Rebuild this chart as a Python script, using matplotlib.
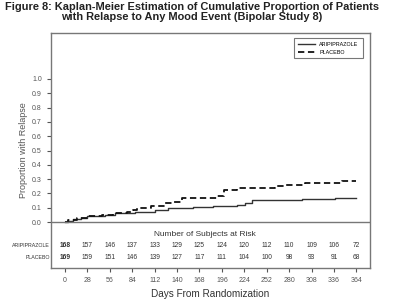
import numpy as np
import matplotlib
matplotlib.use("Agg")
import matplotlib.pyplot as plt

# Kaplan-Meier step data
ari_days = [0, 4, 10, 20, 28, 50, 62, 88, 112, 129, 160, 185, 215, 225, 234, 296, 337, 364]
ari_prop = [0, 0.01, 0.02, 0.03, 0.04, 0.05, 0.06, 0.07, 0.085, 0.095, 0.105, 0.115, 0.12, 0.13, 0.155, 0.163, 0.17, 0.17]
pla_days = [0, 4, 15, 29, 46, 60, 77, 85, 90, 108, 125, 135, 146, 190, 198, 215, 235, 262, 275, 300, 320, 346, 364]
pla_prop = [0, 0.015, 0.03, 0.045, 0.05, 0.06, 0.07, 0.085, 0.1, 0.11, 0.13, 0.14, 0.17, 0.18, 0.225, 0.235, 0.24, 0.25, 0.26, 0.27, 0.275, 0.29, 0.29]

tick_days = list(range(0, 365, 28))
ari_risk = [168, 157, 146, 137, 133, 129, 125, 124, 120, 112, 110, 109, 106, 72]
pla_risk = [169, 159, 151, 146, 139, 127, 117, 111, 104, 100, 98, 93, 91, 68]

sans = ['Liberation Sans', 'DejaVu Sans']
grey = '#555555'
plt.rcParams['font.family'] = sans

fig = plt.figure(figsize=(4, 3.01), dpi=100)
ax = fig.add_axes([0.1275, 0.110, 0.7975, 0.780])

ax.step(ari_days, ari_prop, where='post', color='#333333', lw=1.0, label='ARIPIPRAZOLE')
ax.step(pla_days, pla_prop, where='post', color='#111111', lw=1.3, ls=(0, (3.5, 2)), label='PLACEBO')
ax.axhline(0, color='#777777', lw=1.0)

ax.set_xlim(-17.5, 381)
ax.set_ylim(-0.32, 1.32)
ax.set_xticks(tick_days)
ax.set_yticks(np.arange(0, 1.01, 0.1))
ax.set_yticklabels([f"{v:.1f}" for v in np.arange(0, 1.01, 0.1)])
ax.tick_params(axis='both', labelsize=5, colors=grey, length=3, width=0.8)
for s in ax.spines.values():
    s.set_color('#777777')
    s.set_linewidth(1.0)

# at-risk table inside the box
ax.text(175, -0.09, 'Number of Subjects at Risk', ha='center', va='center', fontsize=6, color='#333333')
for i, d in enumerate(tick_days):
    w = 'bold' if i == 0 else 'normal'
    ax.text(d, -0.166, str(ari_risk[i]), ha='center', va='center', fontsize=4.8, color='#333333', weight=w)
    ax.text(d, -0.25, str(pla_risk[i]), ha='center', va='center', fontsize=4.8, color='#333333', weight=w)
ax.text(-18.5, -0.166, 'ARIPIPRAZOLE', ha='right', va='center', fontsize=3.8, color='#333333')
ax.text(-18.5, -0.25, 'PLACEBO', ha='right', va='center', fontsize=3.8, color='#333333')

ax.text(-0.085, 0.5, 'Proportion with Relapse', transform=ax.get_yaxis_transform(), rotation=90,
        ha='center', va='center', fontsize=6.5, color=grey)
ax.set_xlabel('Days From Randomization', fontsize=7.2, color='#333333', labelpad=4)

leg = ax.legend(loc='upper right', bbox_to_anchor=(0.985, 0.99), fontsize=3.9, frameon=True, fancybox=False,
                edgecolor='#555555', handlelength=3.2, borderpad=0.7, labelspacing=0.5)
leg.get_frame().set_linewidth(0.8)

fig.text(0.48, 0.993, 'Figure 8: Kaplan-Meier Estimation of Cumulative Proportion of Patients\nwith Relapse to Any Mood Event (Bipolar Study 8)',
         ha='center', va='top', fontsize=7.9, weight='bold', color='#222222', linespacing=1.0)

fig.savefig('out.png', dpi=100)
